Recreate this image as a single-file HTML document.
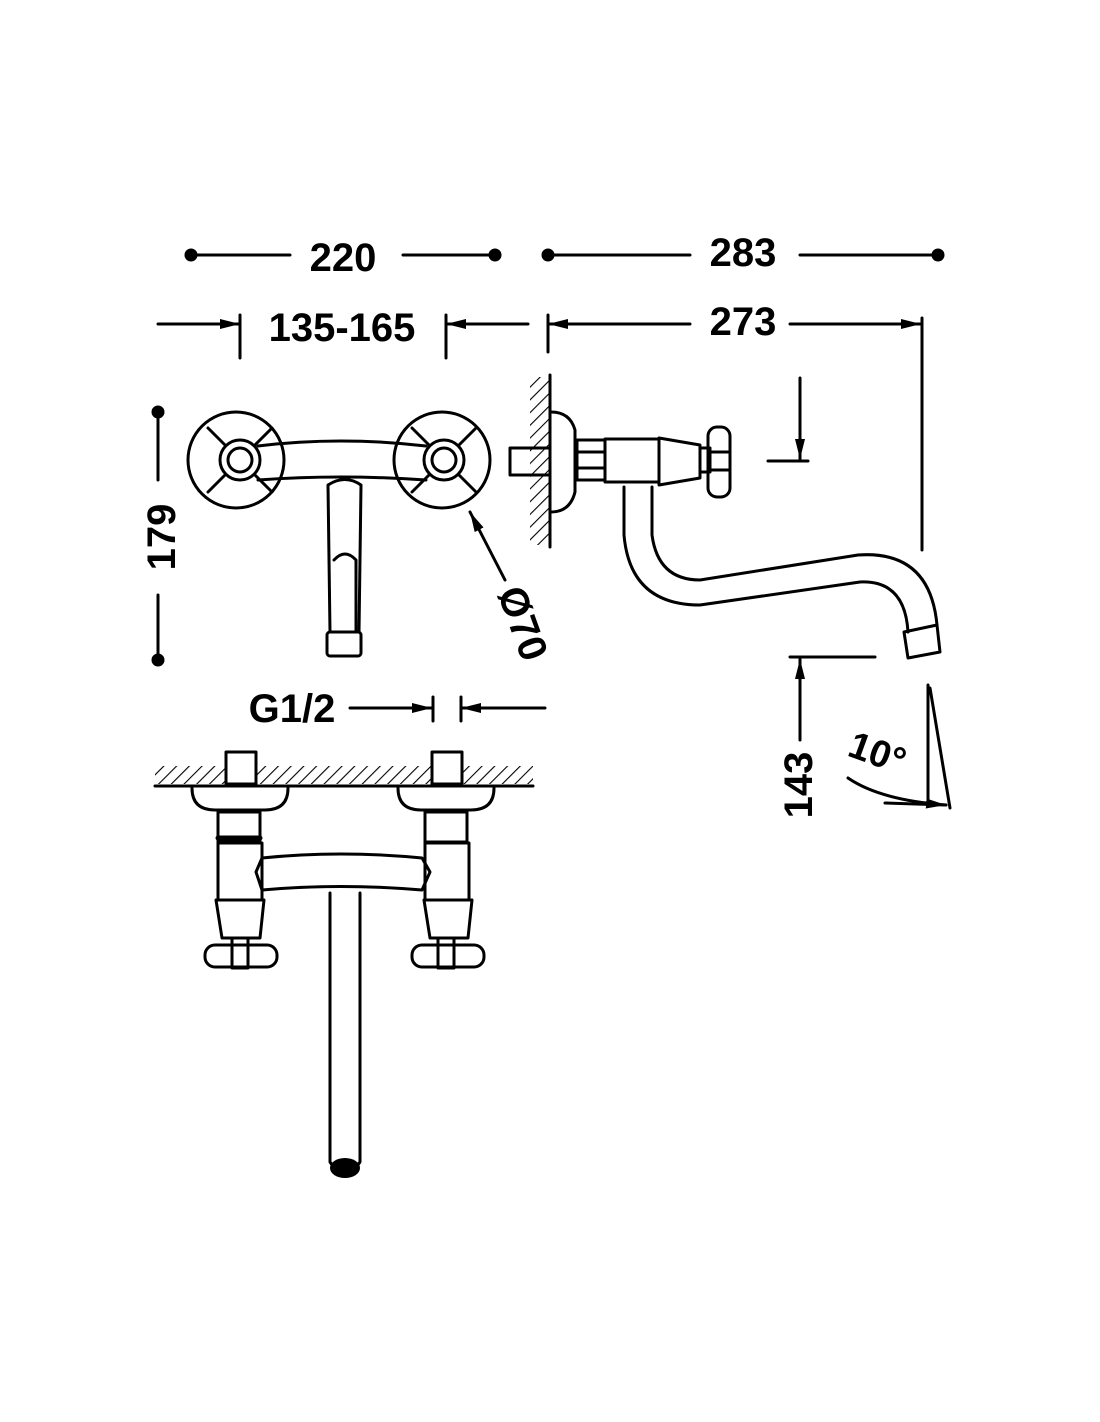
<!DOCTYPE html>
<html><head><style>
html,body{margin:0;padding:0;background:#fff;}
svg{display:block;}
text{font-family:"Liberation Sans",sans-serif;font-weight:bold;fill:#000;}
</style></head><body>
<svg width="1100" height="1422" viewBox="0 0 1100 1422" xmlns="http://www.w3.org/2000/svg">
<defs>
<marker id="ar" viewBox="0 0 20 10" refX="20" refY="5" markerWidth="20" markerHeight="10" markerUnits="userSpaceOnUse" orient="auto"><path d="M0,0 L20,5 L0,10 Z" fill="#000"/></marker>
<pattern id="h" width="9" height="9" patternUnits="userSpaceOnUse" patternTransform="rotate(45)"><line x1="0" y1="0" x2="0" y2="9" stroke="#000" stroke-width="2.2"/></pattern>
</defs>
<g stroke="#000" stroke-width="3" fill="none" stroke-linecap="round" stroke-linejoin="round">
<circle cx="191" cy="255" r="5" fill="#000"/><circle cx="495" cy="255" r="5" fill="#000"/>
<line x1="191" y1="255" x2="290" y2="255"/><line x1="403" y1="255" x2="495" y2="255"/>
<circle cx="548" cy="255" r="5" fill="#000"/><circle cx="938" cy="255" r="5" fill="#000"/>
<line x1="548" y1="255" x2="690" y2="255"/><line x1="800" y1="255" x2="938" y2="255"/>
<line x1="158" y1="324" x2="240" y2="324" marker-end="url(#ar)"/>
<line x1="240" y1="315" x2="240" y2="358"/><line x1="446" y1="315" x2="446" y2="358"/>
<line x1="528" y1="324" x2="446" y2="324" marker-end="url(#ar)"/>
<line x1="548" y1="315" x2="548" y2="352"/>
<line x1="690" y1="324" x2="548" y2="324" marker-end="url(#ar)"/>
<line x1="790" y1="324" x2="921" y2="324" marker-end="url(#ar)"/>
<line x1="922" y1="318" x2="922" y2="550"/>
<circle cx="158" cy="412" r="5" fill="#000"/><circle cx="158" cy="660" r="5" fill="#000"/>
<line x1="158" y1="412" x2="158" y2="480"/><line x1="158" y1="595" x2="158" y2="660"/>
<!-- front view -->
<circle cx="236" cy="460" r="48" fill="#fff"/><circle cx="442" cy="460" r="48" fill="#fff"/>
<g>
<line x1="208" y1="428" x2="226" y2="446"/><line x1="272" y1="428" x2="254" y2="446"/>
<line x1="208" y1="492" x2="226" y2="474"/><line x1="272" y1="492" x2="254" y2="474"/>
<line x1="412" y1="428" x2="430" y2="446"/><line x1="476" y1="428" x2="458" y2="446"/>
<line x1="412" y1="492" x2="430" y2="474"/><line x1="476" y1="492" x2="458" y2="474"/>
</g>
<path d="M258,446 Q340,436 426,446 M258,480 Q340,474 426,480" />
<circle cx="240" cy="460" r="20" fill="#fff"/><circle cx="240" cy="460" r="12"/>
<circle cx="444" cy="460" r="20" fill="#fff"/><circle cx="444" cy="460" r="12"/>
<path d="M328,485 Q345,474 361,485 L359,632 L330,632 Z" fill="#fff"/>
<path d="M334,560 Q345,548 356,560 L356,632"/>
<rect x="327" y="632" width="34" height="24" rx="3"/>
<line x1="505" y1="580" x2="470" y2="512" marker-end="url(#ar)"/>
<!-- side view -->
<rect x="530" y="377" width="20" height="168" fill="url(#h)" stroke="none"/>
<line x1="550" y1="375" x2="550" y2="547"/>
<path d="M551,412 Q570,412 575,430 L575,492 Q570,512 551,512"/>
<path d="M548,448 L510,448 L510,475 L548,475"/>
<rect x="577" y="440" width="28" height="40"/><line x1="577" y1="452" x2="605" y2="452"/><line x1="577" y1="468" x2="605" y2="468"/>
<rect x="605" y="439" width="54" height="43"/>
<path d="M659,438 L700,445 L700,478 L659,485 Z"/>
<rect x="700" y="448" width="10" height="24"/>
<rect x="708" y="427" width="22" height="70" rx="9"/>
<line x1="708" y1="452" x2="730" y2="452"/><line x1="708" y1="470" x2="730" y2="470"/>
<path d="M624,487 L624,535 Q630,605 700,605 L860,582 Q905,580 908,632"/>
<path d="M652,487 L652,535 Q658,580 700,580 L858,555 Q930,550 937,625"/>
<path d="M904,632 L937,625 L940,652 L908,658 Z"/>
<line x1="800" y1="378" x2="800" y2="459" marker-end="url(#ar)"/>
<line x1="768" y1="461" x2="808" y2="461"/>
<line x1="790" y1="657" x2="875" y2="657"/>
<line x1="800" y1="740" x2="800" y2="659" marker-end="url(#ar)"/>
<line x1="928" y1="685" x2="928" y2="806"/>
<line x1="930" y1="688" x2="950" y2="808"/>
<path d="M848,778 Q880,800 946,805" marker-end="url(#ar)"/>
<line x1="885" y1="803" x2="946" y2="805"/>
<line x1="350" y1="708" x2="432" y2="708" marker-end="url(#ar)"/>
<line x1="433" y1="697" x2="433" y2="721"/><line x1="461" y1="697" x2="461" y2="721"/>
<line x1="545" y1="708" x2="461" y2="708" marker-end="url(#ar)"/>
<!-- bottom view -->
<rect x="155" y="766" width="378" height="18" fill="url(#h)" stroke="none"/>
<line x1="155" y1="786" x2="533" y2="786"/>
<rect x="226" y="752" width="30" height="32" fill="#fff"/>
<rect x="432" y="752" width="30" height="32" fill="#fff"/>
<path d="M192,788 Q192,810 215,810 L265,810 Q288,810 288,788"/>
<path d="M398,788 Q398,810 421,810 L471,810 Q494,810 494,788"/>
<rect x="218" y="812" width="42" height="30"/><line x1="218" y1="838" x2="260" y2="838" stroke-width="5"/>
<rect x="425" y="812" width="42" height="30"/>
<path d="M218,843 L262,843 L262,900 L218,900 Z"/>
<path d="M425,843 L469,843 L469,900 L425,900 Z"/>
<path d="M262,858 Q340,850 422,858 L430,872 L422,890 Q340,883 262,890 L256,872 Z"/>
<path d="M216,900 L264,900 L260,938 L222,938 Z"/>
<path d="M424,900 L472,900 L468,938 L430,938 Z"/>
<rect x="205" y="945" width="72" height="22" rx="10"/><rect x="232" y="938" width="16" height="30"/>
<rect x="412" y="945" width="72" height="22" rx="10"/><rect x="438" y="938" width="16" height="30"/>
<path d="M330,893 L330,1162 Q345,1185 360,1162 L360,893"/>
</g>
<ellipse cx="345" cy="1168" rx="15" ry="10" fill="#000"/>
<text x="343" y="271" font-size="40" text-anchor="middle">220</text>
<text x="743" y="266" font-size="40" text-anchor="middle">283</text>
<text x="342" y="341" font-size="40" text-anchor="middle">135-165</text>
<text x="743" y="335" font-size="40" text-anchor="middle">273</text>
<text x="292" y="722" font-size="40" text-anchor="middle">G1/2</text>
<text transform="translate(175,537) rotate(-90)" font-size="40" text-anchor="middle">179</text>
<text transform="translate(812,785) rotate(-90)" font-size="40" text-anchor="middle">143</text>
<text transform="translate(510,628) rotate(70)" font-size="40" text-anchor="middle">Ø70</text>
<text transform="translate(873,765) rotate(20)" font-size="38" text-anchor="middle">10°</text>
</svg>
</body></html>
